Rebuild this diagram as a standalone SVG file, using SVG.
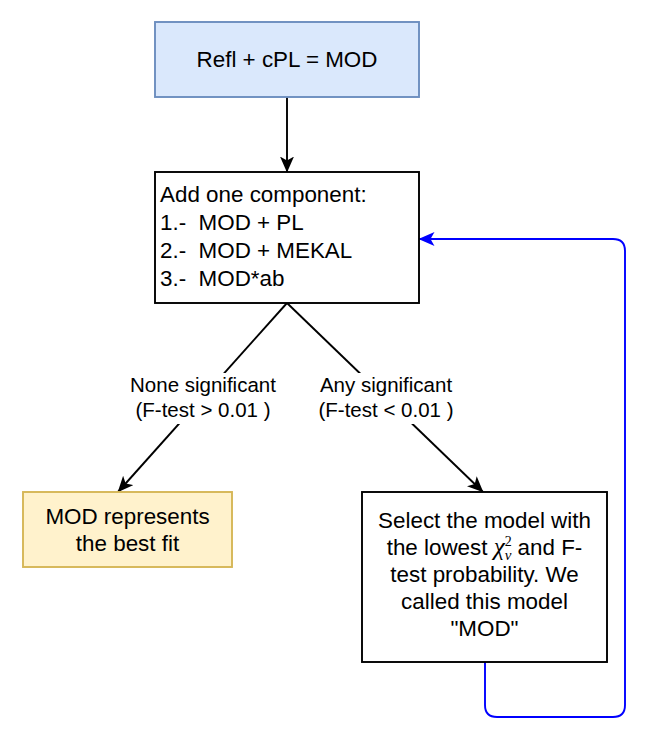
<svg xmlns="http://www.w3.org/2000/svg" width="658" height="738" viewBox="0 0 658 738">
  <defs>
    <style>
      .t { font-family: "Liberation Sans", Arial, Helvetica, sans-serif; font-size: 22.4px; fill: #000; white-space: pre; }
      .lbl { font-family: "Liberation Sans", Arial, Helvetica, sans-serif; font-size: 20.5px; fill: #000; text-anchor: middle; white-space: pre; }
      .mid { text-anchor: middle; }
      .math { font-family: "Liberation Serif", "Times New Roman", serif; }
      .edge { fill: none; stroke: #000; stroke-width: 1.9; }
      .blue { fill: none; stroke: #0000ff; stroke-width: 1.9; }
    </style>
    <marker id="arrK" markerUnits="userSpaceOnUse" viewBox="0 0 16 14" refX="15.5" refY="7" markerWidth="16" markerHeight="14" orient="auto">
      <path d="M0,0 L16,7 L0,14 L4,7 Z" fill="#000"/>
    </marker>
    <marker id="arrB" markerUnits="userSpaceOnUse" viewBox="0 0 16 14" refX="15.5" refY="7" markerWidth="16" markerHeight="14" orient="auto">
      <path d="M0,0 L16,7 L0,14 L4,7 Z" fill="#0000ff"/>
    </marker>
  </defs>
  <rect width="658" height="738" fill="#fff"/>

  <g id="connectors">
    <path class="edge" d="M287,97 L287,172" marker-end="url(#arrK)"/>
    <path class="edge" d="M287,303 L118,492" marker-end="url(#arrK)"/>
    <path class="edge" d="M287,303 L483,492" marker-end="url(#arrK)"/>
    <path class="blue" d="M485,662 L485,705 Q485,717 497,717 L613,717 Q625,717 625,705 L625,251 Q625,239 613,239 L419,239" marker-end="url(#arrB)"/>
    <g id="label-none">
      <rect x="128" y="373" width="150" height="51" fill="#fff"/>
      <text class="lbl" x="203" y="392">None significant</text>
      <text class="lbl" x="203" y="416.5">(F-test &gt; 0.01 )</text>
    </g>
    <g id="label-any">
      <rect x="316" y="373" width="142" height="51" fill="#fff"/>
      <text class="lbl" x="386" y="392">Any significant</text>
      <text class="lbl" x="386" y="416.5">(F-test &lt; 0.01 )</text>
    </g>
  </g>

  <g id="node-start">
    <rect x="155" y="22" width="264" height="75" fill="#dae8fc" stroke="#6c8ebf" stroke-width="1.9"/>
    <text class="t mid" x="287" y="67">Refl + cPL = MOD</text>
  </g>

  <g id="node-add">
    <rect x="155" y="172" width="264" height="131" fill="#fff" stroke="#000" stroke-width="1.9"/>
    <text class="t" x="160" y="202">Add one component:</text>
    <text class="t" x="160" y="230">1.-  MOD + PL</text>
    <text class="t" x="160" y="258">2.-  MOD + MEKAL</text>
    <text class="t" x="160" y="286">3.-  MOD*ab</text>
  </g>

  <g id="node-best">
    <rect x="23" y="492" width="209" height="75" fill="#fff2cc" stroke="#d6b656" stroke-width="1.9"/>
    <text class="t mid" x="127.5" y="524">MOD represents</text>
    <text class="t mid" x="127.5" y="551">the best fit</text>
  </g>

  <g id="node-select">
    <rect x="362" y="492" width="245" height="170" fill="#fff" stroke="#000" stroke-width="1.9"/>
    <text class="t mid" x="484.5" y="528">Select the model with</text>
    <text class="t mid" x="484.5" y="555">the lowest <tspan class="math" font-style="italic" font-size="25">χ</tspan><tspan class="math" font-size="14" dy="-9">2</tspan><tspan class="math" font-style="italic" font-size="15" dx="-7" dy="14">ν</tspan><tspan dy="-5"> and F-</tspan></text>
    <text class="t mid" x="484.5" y="582">test probability. We</text>
    <text class="t mid" x="484.5" y="609">called this model</text>
    <text class="t mid" x="484.5" y="636">"MOD"</text>
  </g>
</svg>
